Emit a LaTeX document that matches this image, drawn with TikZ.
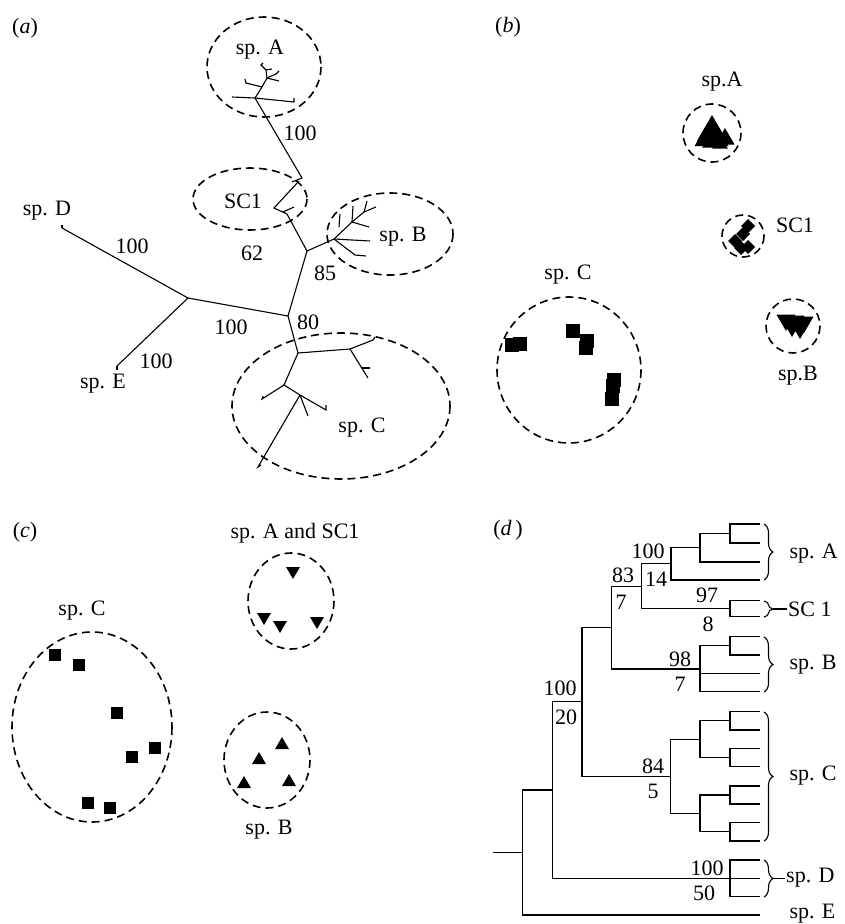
\documentclass[tikz,border=0pt]{standalone}
\usepackage{fontspec}
\setmainfont{Liberation Serif}
\usetikzlibrary{decorations.pathreplacing}

% filled marks: x, y, half size
\newcommand{\sqmark}[3]{\fill (#1,#2) ++(-#3,-#3) rectangle ++(2*#3,2*#3);}
\newcommand{\upmark}[3]{\fill (#1,#2) ++(0,-#3) -- ++(0.87*#3,1.5*#3) -- ++(-1.74*#3,0) -- cycle;}
\newcommand{\downmark}[3]{\fill (#1,#2) ++(0,#3) -- ++(0.87*#3,-1.5*#3) -- ++(-1.74*#3,0) -- cycle;}
\newcommand{\diamark}[3]{\fill (#1,#2) ++(0,-#3) -- ++(#3,#3) -- ++(-#3,#3) -- ++(-#3,-#3) -- cycle;}

\begin{document}
\begin{tikzpicture}[x=1pt, y=-1pt, font=\fontsize{22}{26}\selectfont,
    branch/.style={line width=1.1pt},
    group/.style={line width=1.6pt, dash pattern=on 8pt off 5pt},
    clade/.style={decorate, decoration={brace, amplitude=9pt}, line width=1.1pt}]
    \useasboundingbox (0,0) rectangle (844,924);

    % (a) unrooted tree
    \node (ta) at (25,28) {(\textit{a})};
    \coordinate (tD) at (62,228);
    \coordinate (tE) at (117,366);
    \coordinate (jD) at (188,298);
    \coordinate (j80) at (288,316);
    \coordinate (j85) at (307,251);
    \coordinate (jSC) at (287,214);
    \coordinate (jA) at (302,178);
    \coordinate (rA) at (255,98);
    \coordinate (rB) at (334,239);
    \coordinate (rC) at (298,353);
    \draw[branch] (tD) -- (jD) -- (j80) -- (j85) -- (rB);
    \draw[branch] (jD) -- (tE);
    \draw[branch] (tD) -- ++(0,-3);
    \draw[branch] (tE) -- ++(0,4);
    % sp. A and SC1
    \draw[branch] (rA) -- (jA) -- (292,182);
    \draw[branch] (299,181) -- (274,208) -- (jSC) -- (j85);
    \draw[branch] (283,212) -- (294,207);
    \draw[branch] (232,97) -- (rA) -- (294,102) -- (294,98);
    \draw[branch] (rA) -- (262,87) coordinate (a1);
    \draw[branch] (a1) -- (246,83) -- (245,79);
    \draw[branch] (a1) -- (267,78) coordinate (a2);
    \draw[branch] (a2) -- (279,81);
    \draw[branch] (a2) -- (276,74) -- (279,71);
    \draw[branch] (a2) -- (266,70) -- (261,65) -- (263,63);
    \draw[branch] (266,70) -- (272,69);
    % sp. B
    \draw[branch] (rB) -- (370,241);
    \draw[branch] (rB) -- (355,255) -- (366,256);
    \draw[branch] (rB) -- (352,222) coordinate (b1);
    \draw[branch] (b1) -- (369,227);
    \draw[branch] (b1) -- (353,206);
    \draw[branch] (b1) -- (364,212) coordinate (b2);
    \draw[branch] (b2) -- (376,207);
    \draw[branch] (b2) -- (367,201);
    \draw[branch] (339,227) -- (340,214);
    % sp. C
    \draw[branch] (j80) -- (rC) -- (350,349) coordinate (c1);
    \draw[branch] (c1) -- (373,340) -- (375,337);
    \draw[branch] (c1) -- (368,378);
    \draw[branch] (362,368) -- (370,368);
    \draw[branch] (rC) -- (284,385) coordinate (c2);
    \draw[branch] (c2) -- (262,399) -- (263,396);
    \draw[branch] (c2) -- (300,395) coordinate (c3);
    \draw[branch] (c3) -- (326,410) -- (326,405);
    \draw[branch] (c3) -- (308,416);
    \draw[branch] (c3) -- (258,467) -- (261,465);

    \draw[group] (264,67) ellipse [x radius=57, y radius=50];
    \draw[group] (250,199) ellipse [x radius=57, y radius=31];
    \draw[group] (390,234) ellipse [x radius=63, y radius=41];
    \draw[group] (341,406) ellipse [x radius=109, y radius=73];

    \node (lA) at (260,50) {sp. A};
    \node (lSC) at (243,201) {SC1};
    \node (lB) at (403,237) {sp. B};
    \node (lC) at (362,428) {sp. C};
    \node (lD) at (47,211) {sp. D};
    \node (lE) at (103,384) {sp. E};
    \node (s100A) at (300,133) {100};
    \node (s62) at (252,253) {62};
    \node (s85) at (325,273) {85};
    \node (s80) at (308,322) {80};
    \node (s100D) at (132,246) {100};
    \node (s100E) at (156,361) {100};
    \node (s100m) at (231,327) {100};

    % (b) clusters
    \node (tb) at (508,27) {(\textit{b})};
    \draw[group] (712,133) circle [radius=29];
    \draw[group] (743,236) circle [radius=21];
    \draw[group] (793,326) circle [radius=27];
    \draw[group] (569,370) ellipse [x radius=72, y radius=73];
    \foreach \x/\y/\s in {712/132/17, 705/140/12, 718/140/12, 725/139/11, 710/143/9, 720/144/9}
        {\upmark{\x}{\y}{\s}}
    \foreach \x/\y in {748/226, 743/234, 735/241, 741/248, 748/247}
        {\diamark{\x}{\y}{7}}
    \foreach \x/\y/\s in {786/320/11, 795/321/11, 804/322/11, 792/327/10, 800/329/10}
        {\downmark{\x}{\y}{\s}}
    \foreach \x/\y in {512/345, 520/344, 573/331, 587/341, 586/348, 614/380, 613/386, 612/399}
        {\sqmark{\x}{\y}{7}}
    \node (bA) at (722,82) {sp.A};
    \node (bSC) at (795,225) {SC1};
    \node (bB) at (798,376) {sp.B};
    \node (bC) at (568,275) {sp. C};

    % (c) clusters
    \node (tc) at (25,532) {(\textit{c})};
    \draw[group] (291,601) ellipse [x radius=43, y radius=48];
    \draw[group] (92,727) ellipse [x radius=80, y radius=95];
    \draw[group] (267,760) ellipse [x radius=43, y radius=48];
    \foreach \x/\y in {293/571, 264/617, 280/625, 317/621}
        {\downmark{\x}{\y}{8}}
    \foreach \x/\y in {282/745, 259/760, 244/784, 289/782}
        {\upmark{\x}{\y}{8}}
    \foreach \x/\y in {55/655, 79/665, 117/713, 155/748, 132/757, 88/803, 110/808}
        {\sqmark{\x}{\y}{6}}
    \node (cAS) at (295,533) {sp. A and SC1};
    \node (cC) at (82,611) {sp. C};
    \node (cB) at (269,830) {sp. B};

    % (d) rooted tree
    \node (td) at (508,530) {(\textit{d}\,)};
    % sp. A
    \draw[branch] (760,524) -- (730,524) -- (730,543) -- (760,543);
    \draw[branch] (730,533.5) -- (700,533.5) -- (700,562) -- (760,562);
    \draw[branch] (700,547.8) -- (671,547.8) -- (671,580) -- (760,580);
    % SC 1
    \draw[branch] (760,600.7) -- (730,600.7) -- (730,616.7) -- (760,616.7);
    \draw[branch] (671,563.9) -- (641.7,563.9) -- (641.7,608.7) -- (730,608.7);
    % sp. B
    \draw[branch] (760,636.7) -- (730,636.7) -- (730,655) -- (760,655);
    \draw[branch] (730,645.9) -- (700,645.9) -- (700,691.7) -- (760,691.7);
    \draw[branch] (700,673.3) -- (760,673.3);
    \draw[branch] (641.7,586.3) -- (611.7,586.3) -- (611.7,669) -- (700,669);
    % sp. C
    \foreach \a/\b in {711.7/730, 748.3/766.7, 786/804, 822.7/841}
        {\draw[branch] (760,\a) -- (730,\a) -- (730,\b) -- (760,\b);}
    \draw[branch] (730,720.9) -- (700,720.9) -- (700,757.5) -- (730,757.5);
    \draw[branch] (730,795) -- (700,795) -- (700,831.9) -- (730,831.9);
    \draw[branch] (700,739.2) -- (670.7,739.2) -- (670.7,813.4) -- (700,813.4);
    \draw[branch] (611.7,627.7) -- (582,627.7) -- (582,776.3) -- (670.7,776.3);
    % sp. D and sp. E
    \draw[branch] (760,860) -- (730,860) -- (730,896.7) -- (760,896.7);
    \draw[branch] (552.3,878.3) -- (760,878.3);
    \draw[branch] (582,701.9) -- (552.3,701.9) -- (552.3,878.3);
    \draw[branch] (552.3,790) -- (522.7,790) -- (522.7,915) -- (760,915);
    \draw[branch] (493.3,852.5) -- (522.7,852.5);

    \node (n100a) at (648,551) {100};
    \node (n14) at (656,579) {14};
    \node (n83) at (623,575) {83};
    \node (n7a) at (621,602) {7};
    \node (n97) at (707,595) {97};
    \node (n8) at (708,624) {8};
    \node (n98) at (680,659) {98};
    \node (n7b) at (680,684) {7};
    \node (n100b) at (560,688) {100};
    \node (n20) at (566,717) {20};
    \node (n84) at (653,766) {84};
    \node (n5) at (653,791) {5};
    \node (n100c) at (707,868) {100};
    \node (n50) at (704,893) {50};

    \draw[clade] (764,524) -- (764,580);
    \draw[clade] (764,601) -- (764,617);
    \draw[clade] (764,637) -- (764,692);
    \draw[clade] (764,712) -- (764,841);
    \draw[clade] (764,860) -- (764,897);
    \draw[branch] (773,609) -- (787,609);
    \draw[branch] (773,878.3) -- (785,878.3);
    \node[anchor=west] (dA) at (786,554) {sp. A};
    \node[anchor=west, inner sep=1pt] (dSC) at (787,609) {SC 1};
    \node[anchor=west] (dB) at (786,665) {sp. B};
    \node[anchor=west] (dC) at (786,776) {sp. C};
    \node[anchor=west, inner sep=1pt] (dD) at (785,878) {sp. D};
    \node[anchor=west] (dE) at (786,914) {sp. E};
\end{tikzpicture}
\end{document}
